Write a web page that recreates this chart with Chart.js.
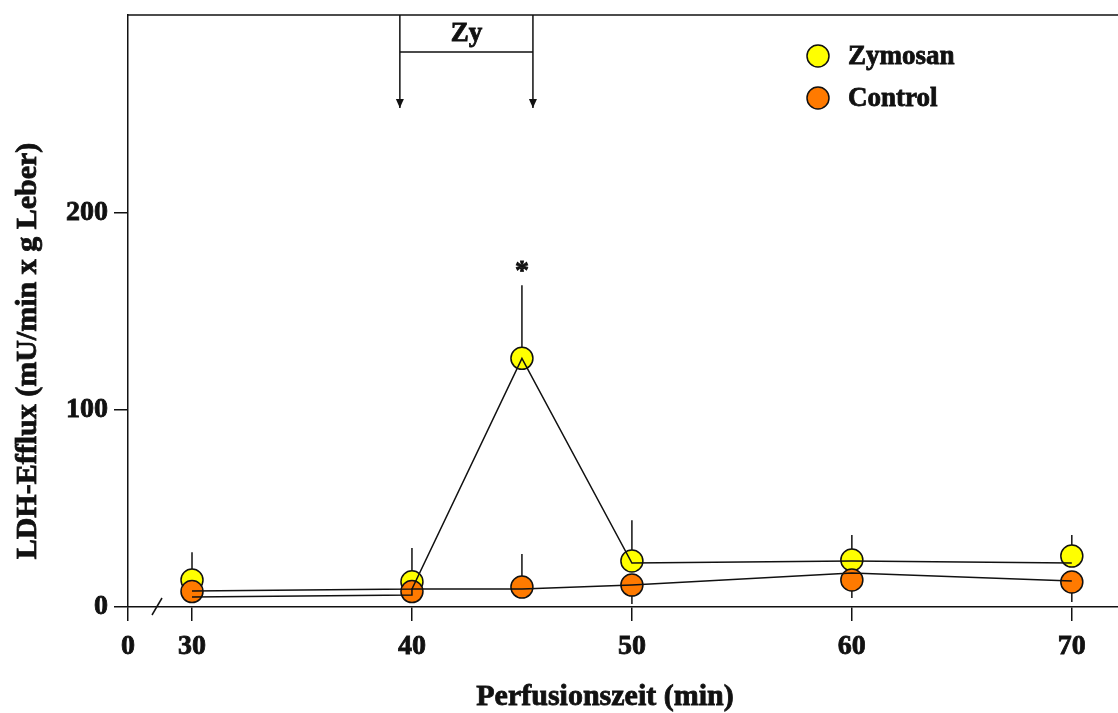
<!DOCTYPE html>
<html lang="de">
<head>
    <meta charset="UTF-8">
    <title>LDH-Efflux</title>
    <style>
        html, body { margin: 0; padding: 0; background: #fff; }
        #wrap { width: 1118px; height: 713px; }
    </style>
    <script src="https://cdn.jsdelivr.net/npm/chart.js@4.4.0/dist/chart.umd.min.js"></script>
</head>
<body>
    <div id="wrap"><canvas id="chart" width="1118" height="713"></canvas></div>

    <script>
        // time points (min)
        const times = [30, 40, 45, 50, 60, 70];
        const xTickValues = [30, 40, 50, 60, 70];
        const yTickValues = [0, 100, 200];

        // mean values (markers)
        const zymosanMean = [13.7, 12.8, 126, 23.3, 23.8, 25.8];
        const controlMean = [7.8, 7.8, 10.1, 11.1, 13.7, 12.7];

        // error bars (SEM), direction +1 up / -1 down
        const zymosanSem = [14.1, 17.1, 37, 20.7, 12.7, 10.7];
        const zymosanDir = [1, 1, 1, 1, 1, 1];
        const controlSem = [3, 3, 16.7, 9.6, 9.1, 10.2];
        const controlDir = [-1, -1, 1, -1, -1, -1];

        // connecting lines as printed (slightly offset from the markers)
        const zymosanLineX = [30, 40, 45, 50, 60, 70];
        const zymosanLineY = [8.1, 9.1, 126, 22.3, 23.3, 22.3];
        const controlLineX = [30, 40, 40, 45, 50, 60, 70];
        const controlLineY = [5.1, 6.1, 9.1, 9.1, 11.1, 17.2, 13.2];

        const seriesNames = ['Zymosan', 'Control'];
        const seriesColors = ['#ffff00', '#ff7a00'];

        const X_MIN = 27.09, X_MAX = 72.1;
        const FONT = "'Liberation Serif', 'Times New Roman', serif";
        const INK = '#111';

        const toPoints = (xs, ys) => xs.map((x, i) => ({ x: x, y: ys[i] }));

        function boldText(ctx, txt, x, y) {
            ctx.fillText(txt, x, y);
            ctx.strokeText(txt, x, y);
        }

        // error bars, axis break, Zy box, asterisk, titles and legend
        const extras = {
            id: 'extras',
            beforeDatasetsDraw(chart) {
                const ctx = chart.ctx, xs = chart.scales.x, ys = chart.scales.y;
                ctx.save();
                ctx.strokeStyle = INK;
                ctx.lineWidth = 1.5;
                const bars = [[zymosanMean, zymosanSem, zymosanDir], [controlMean, controlSem, controlDir]];
                bars.forEach(([mean, sem, dir]) => {
                    times.forEach((t, i) => {
                        const px = xs.getPixelForValue(t);
                        ctx.beginPath();
                        ctx.moveTo(px, ys.getPixelForValue(mean[i]));
                        ctx.lineTo(px, ys.getPixelForValue(mean[i] + dir[i] * sem[i]));
                        ctx.stroke();
                    });
                });
                ctx.restore();
            },
            afterDraw(chart) {
                const ctx = chart.ctx, a = chart.chartArea;
                const xs = chart.scales.x, ys = chart.scales.y;
                ctx.save();
                ctx.strokeStyle = INK;
                ctx.fillStyle = INK;
                ctx.lineWidth = 1.5;

                // top frame line
                ctx.beginPath();
                ctx.moveTo(a.left, a.top);
                ctx.lineTo(a.right, a.top);
                ctx.stroke();

                // axis break mark
                ctx.beginPath();
                ctx.moveTo(a.left + 24, a.bottom + 8);
                ctx.lineTo(a.left + 34, a.bottom - 9);
                ctx.stroke();

                // Zy application box with arrows
                const x1 = xs.getPixelForValue(39.45), x2 = xs.getPixelForValue(45.5);
                const boxBottom = a.top + 37, tip = a.top + 93;
                ctx.beginPath();
                ctx.moveTo(x1, a.top); ctx.lineTo(x1, tip);
                ctx.moveTo(x2, a.top); ctx.lineTo(x2, tip);
                ctx.moveTo(x1, boxBottom); ctx.lineTo(x2, boxBottom);
                ctx.stroke();
                [x1, x2].forEach(x => {
                    ctx.beginPath();
                    ctx.moveTo(x - 4, tip - 9);
                    ctx.lineTo(x, tip);
                    ctx.lineTo(x + 4, tip - 9);
                    ctx.closePath();
                    ctx.fill();
                });

                ctx.lineWidth = 0.8;
                ctx.textAlign = 'center';
                ctx.textBaseline = 'middle';
                ctx.font = 'bold 27px ' + FONT;
                boldText(ctx, 'Zy', (x1 + x2) / 2, a.top + 19);

                // significance mark
                const pk = 2;
                ctx.font = 'bold 28px ' + FONT;
                boldText(ctx, '*', xs.getPixelForValue(times[pk]),
                    ys.getPixelForValue(zymosanMean[pk] + zymosanSem[pk]) - 14);

                // axis titles
                ctx.font = 'bold 30px ' + FONT;
                boldText(ctx, 'Perfusionszeit (min)', 605, 697);
                ctx.save();
                ctx.translate(28, 351);
                ctx.rotate(-Math.PI / 2);
                boldText(ctx, 'LDH-Efflux (mU/min x g Leber)', 0, 0);
                ctx.restore();

                // legend
                ctx.textAlign = 'left';
                ctx.font = 'bold 27px ' + FONT;
                seriesNames.forEach((name, i) => {
                    const cy = a.top + 41 + i * 42, cx = a.left + 690;
                    ctx.beginPath();
                    ctx.arc(cx, cy, 11, 0, Math.PI * 2);
                    ctx.fillStyle = seriesColors[i];
                    ctx.fill();
                    ctx.lineWidth = 1.5;
                    ctx.stroke();
                    ctx.fillStyle = INK;
                    ctx.lineWidth = 0.8;
                    boldText(ctx, name, cx + 30, cy + 1);
                });
                ctx.restore();
            }
        };

        const lineStyle = {
            type: 'line',
            borderColor: INK,
            borderWidth: 1.5,
            pointRadius: 0,
            fill: false,
            tension: 0
        };
        const markerStyle = (color) => ({
            type: 'scatter',
            showLine: false,
            pointRadius: 11,
            pointHoverRadius: 11,
            pointBackgroundColor: color,
            pointBorderColor: INK,
            pointBorderWidth: 1.5
        });

        const tickFont = { family: FONT, size: 28, weight: 'bold' };

        new Chart(document.getElementById('chart'), {
            data: {
                datasets: [
                    Object.assign({ label: 'Zymosan line', data: toPoints(zymosanLineX, zymosanLineY) }, lineStyle),
                    Object.assign({ label: 'Control line', data: toPoints(controlLineX, controlLineY) }, lineStyle),
                    Object.assign({ label: seriesNames[1], data: toPoints(times, controlMean) }, markerStyle(seriesColors[1])),
                    Object.assign({ label: seriesNames[0], data: toPoints(times, zymosanMean) }, markerStyle(seriesColors[0]))
                ]
            },
            options: {
                responsive: false,
                animation: false,
                layout: { autoPadding: false, padding: { top: 15, right: 0, left: 0, bottom: 0 } },
                plugins: { legend: { display: false }, tooltip: { enabled: false } },
                scales: {
                    x: {
                        type: 'linear',
                        min: X_MIN,
                        max: X_MAX,
                        afterBuildTicks: s => { s.ticks = [X_MIN].concat(xTickValues).map(v => ({ value: v })); },
                        afterFit: s => { s.height = 106; s.paddingLeft = 0; s.paddingRight = 0; },
                        ticks: {
                            color: INK,
                            padding: 9,
                            maxRotation: 0,
                            font: tickFont,
                            textStrokeColor: INK,
                            textStrokeWidth: 0.8,
                            callback: v => (v === X_MIN ? '0' : String(v))
                        },
                        grid: { drawOnChartArea: false, tickLength: 14, color: INK, lineWidth: 1.5 },
                        border: { color: INK, width: 1.5 }
                    },
                    y: {
                        min: 0,
                        max: 300,
                        afterBuildTicks: s => { s.ticks = yTickValues.map(v => ({ value: v })); },
                        afterFit: s => { s.width = 128; s.paddingTop = 0; s.paddingBottom = 0; },
                        ticks: {
                            color: INK,
                            padding: 6,
                            font: tickFont,
                            textStrokeColor: INK,
                            textStrokeWidth: 0.8
                        },
                        grid: { drawOnChartArea: false, tickLength: 14, color: INK, lineWidth: 1.5 },
                        border: { color: INK, width: 1.5 }
                    }
                }
            },
            plugins: [extras]
        });
    </script>
</body>
</html>
